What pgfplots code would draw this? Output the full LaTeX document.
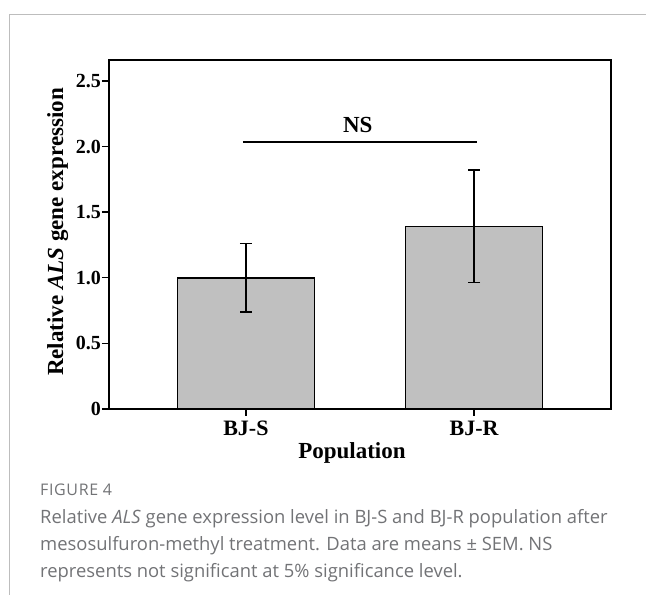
\documentclass[border=0pt]{standalone}
\usepackage{pgfplots}
\pgfplotsset{compat=1.18}
\usepackage{fontspec}
\setmainfont{Liberation Serif}
\newfontfamily\capfont{Open Sans}
\newfontfamily\capfontsp[LetterSpace=4]{Open Sans}
\definecolor{bargray}{HTML}{C0C0C0}
\definecolor{capgray}{HTML}{727376}
\definecolor{framegray}{HTML}{BDBDBD}
\begin{document}
\begin{tikzpicture}[x=1pt,y=1pt]
\useasboundingbox (0,0) rectangle (646,595);
\draw[framegray, line width=1pt] (9,0) -- (9,580) -- (646,580);
\begin{axis}[
  at={(109pt,186pt)}, anchor=south west, scale only axis,
  width=502pt, height=349pt,
  xmin=-0.6, xmax=1.6, ymin=0, ymax=2.66,
  axis line style={line width=1.6pt},
  xtick={0,1}, xticklabels={BJ-S,BJ-R},
  ytick={0,0.5,1,1.5,2,2.5}, yticklabels={0,0.5,1.0,1.5,2.0,2.5},
  tick align=outside, tick pos=left, major tick length=7pt,
  tick style={line width=1.4pt, black},
  yticklabel style={font=\fontsize{20}{24}\selectfont\bfseries, anchor=east, inner sep=1pt},
  xticklabel style={font=\fontsize{22}{26}\selectfont\bfseries, anchor=base, yshift=-20pt},
  xlabel={Population},
  ylabel={Relative \textit{ALS} gene expression},
  xlabel style={font=\fontsize{23}{27}\selectfont\bfseries, at={(axis description cs:0.484,-0.143)}, anchor=base},
  ylabel style={font=\fontsize{23}{27}\selectfont\bfseries, at={(axis description cs:-0.0916,0.507)}, anchor=base},
]
\addplot[ybar, bar width=0.6, fill=bargray, draw=black, line width=1.6pt,
  error bars/.cd, y dir=both, y explicit,
  error bar style={line width=1.6pt, black},
  error mark options={rotate=90, mark size=6pt, line width=1.6pt, black}]
  coordinates {(0,1.0) +- (0,0.26) (1,1.392) +- (0,0.428)};
\addplot[black, line width=2.7pt, forget plot] coordinates {(-0.013,2.035) (1.013,2.035)};
\node[font=\fontsize{23}{26}\selectfont\bfseries, anchor=base] at (axis cs:0.49,2.11) {NS};
\end{axis}
\begin{scope}[every node/.style={anchor=base west, inner sep=0pt, text=capgray}]
\node[font=\capfontsp\fontsize{16}{19}\selectfont] at (40,99) {FIGURE 4};
\node[font=\capfont\fontsize{18.4}{22}\selectfont] at (40,71) {Relative \textit{ALS} gene expression level in BJ-S and BJ-R population after};
\node[font=\capfont\fontsize{18.4}{22}\selectfont] at (40,44) {mesosulfuron-methyl treatment. Data are means ± SEM. NS};
\node[font=\capfont\fontsize{18.4}{22}\selectfont] at (40,17) {represents not significant at 5\% significance level.};
\end{scope}
\end{tikzpicture}
\end{document}
